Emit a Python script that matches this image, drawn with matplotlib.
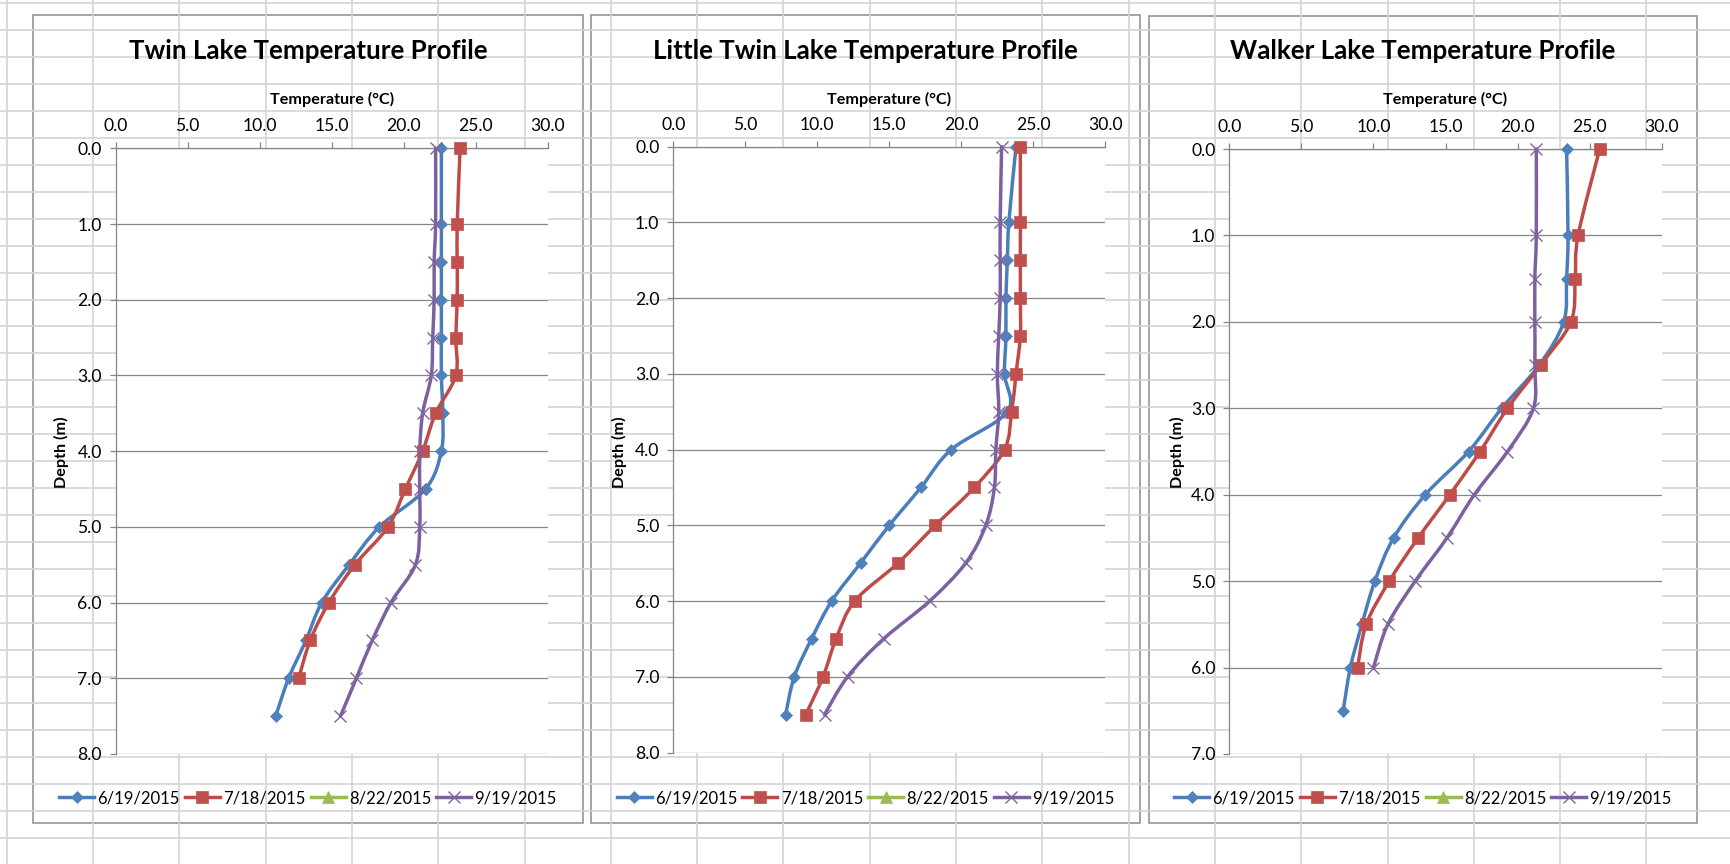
import matplotlib
matplotlib.use("Agg")
import matplotlib.pyplot as plt
from matplotlib.path import Path
from matplotlib.patches import PathPatch, Rectangle
from matplotlib.lines import Line2D
from matplotlib.ticker import FormatStrFormatter
import numpy as np

plt.rcParams['font.family'] = ['Lato', 'DejaVu Sans']

# ---------------- data ----------------
series_labels = ["6/19/2015", "7/18/2015", "8/22/2015", "9/19/2015"]
line_colors = ["#4A7EBB", "#BE4B48", "#98B954", "#7D60A0"]
marker_colors = ["#4F81BD", "#C0504D", "#9BBB59", "#8064A2"]
markers = ["D", "s", "^", "x"]

lake_titles = ["Twin Lake Temperature Profile",
               "Little Twin Lake Temperature Profile",
               "Walker Lake Temperature Profile"]
temp_ticks = [0, 5, 10, 15, 20, 25, 30]

# Twin Lake
twin_depth = [0, 1, 1.5, 2, 2.5, 3, 3.5, 4, 4.5, 5, 5.5, 6, 6.5, 7, 7.5]
twin_depth_jul = [0, 1, 1.5, 2, 2.5, 3, 3.5, 4, 4.5, 5, 5.5, 6, 6.5, 7]
twin_jun = [22.6, 22.6, 22.6, 22.6, 22.6, 22.6, 22.7, 22.6, 21.5, 18.3, 16.2, 14.3, 13.2, 12.0, 11.1]
twin_jul = [23.9, 23.7, 23.7, 23.7, 23.6, 23.6, 22.2, 21.3, 20.1, 18.9, 16.6, 14.8, 13.5, 12.7]
twin_aug = []
twin_sep = [22.2, 22.2, 22.1, 22.1, 22.0, 21.9, 21.3, 21.1, 21.1, 21.1, 20.8, 19.1, 17.8, 16.7, 15.6]
twin_depth_ticks = [0, 1, 2, 3, 4, 5, 6, 7, 8]

# Little Twin Lake
ltwin_depth = [0, 1, 1.5, 2, 2.5, 3, 3.5, 4, 4.5, 5, 5.5, 6, 6.5, 7, 7.5]
ltwin_jun = [23.8, 23.3, 23.2, 23.1, 23.1, 23.0, 23.2, 19.3, 17.2, 15.0, 13.0, 11.0, 9.6, 8.4, 7.8]
ltwin_jul = [24.1, 24.1, 24.1, 24.1, 24.1, 23.8, 23.5, 23.0, 20.9, 18.2, 15.6, 12.6, 11.3, 10.4, 9.2]
ltwin_aug = []
ltwin_sep = [22.8, 22.7, 22.7, 22.7, 22.6, 22.5, 22.6, 22.4, 22.3, 21.7, 20.3, 17.8, 14.6, 12.1, 10.5]
ltwin_depth_ticks = [0, 1, 2, 3, 4, 5, 6, 7, 8]

# Walker Lake
walker_depth_jun = [0, 1, 1.5, 2, 2.5, 3, 3.5, 4, 4.5, 5, 5.5, 6, 6.5]
walker_depth = [0, 1, 1.5, 2, 2.5, 3, 3.5, 4, 4.5, 5, 5.5, 6]
walker_jun = [23.4, 23.5, 23.4, 23.2, 21.5, 18.9, 16.6, 13.6, 11.4, 10.1, 9.2, 8.4, 7.9]
walker_jul = [25.7, 24.2, 24.0, 23.7, 21.6, 19.3, 17.4, 15.3, 13.1, 11.1, 9.5, 8.9]
walker_aug = []
walker_sep = [21.3, 21.3, 21.2, 21.2, 21.2, 21.1, 19.3, 17.0, 15.1, 12.9, 11.0, 10.0]
walker_depth_ticks = [0, 1, 2, 3, 4, 5, 6, 7]

lakes = [
    dict(title=lake_titles[0], yticks=twin_depth_ticks,
         series=[(twin_jun, twin_depth), (twin_jul, twin_depth_jul), (twin_aug, []), (twin_sep, twin_depth)]),
    dict(title=lake_titles[1], yticks=ltwin_depth_ticks,
         series=[(ltwin_jun, ltwin_depth), (ltwin_jul, ltwin_depth), (ltwin_aug, []), (ltwin_sep, ltwin_depth)]),
    dict(title=lake_titles[2], yticks=walker_depth_ticks,
         series=[(walker_jun, walker_depth_jun), (walker_jul, walker_depth), (walker_aug, []), (walker_sep, walker_depth)]),
]

# ---------------- layout (pixels) ----------------
W, H = 1730, 864
panel_boxes = [(33, 15, 583, 823), (591, 15, 1140, 823), (1149, 16, 1697, 823)]
plot_areas = [(115.7, 148.3, 548, 754), (673.3, 146.7, 1105.3, 752.5), (1229.3, 149, 1661.7, 754)]

AXIS_GRAY = "#868686"
LW = 2.5
MS = {"D": 6.3, "s": 8.2, "^": 8, "x": 9}


def smooth_path(xs, ys):
    pts = np.column_stack([xs, ys]).astype(float)
    n = len(pts)
    verts = [pts[0]]
    codes = [Path.MOVETO]
    for i in range(n - 1):
        p0 = pts[i - 1] if i > 0 else pts[i]
        p1 = pts[i]
        p2 = pts[i + 1]
        p3 = pts[i + 2] if i + 2 < n else pts[i + 1]
        c1 = p1 + (p2 - p0) / 6.0
        c2 = p2 - (p3 - p1) / 6.0
        verts += [c1, c2, p2]
        codes += [Path.CURVE4] * 3
    return Path(verts, codes)


fig = plt.figure(figsize=(W / 100, H / 100), dpi=100)

# spreadsheet background
bg = fig.add_axes([0, 0, 1, 1], zorder=-10)
bg.set_xlim(0, W)
bg.set_ylim(H, 0)
bg.axis("off")
for k in range(21):
    bg.axvline(6.7 + 86.3 * k, color="#d4d4d4", lw=1.2)
for k in range(33):
    bg.axhline(3.3 + 26.93 * k, color="#d4d4d4", lw=1.2)
for (x0, y0, x1, y1) in panel_boxes:
    bg.add_patch(Rectangle((x0, y0), x1 - x0, y1 - y0, facecolor="white",
                           edgecolor="#8c8c8c", lw=1.1))

for i, lake in enumerate(lakes):
    x0, y0, x1, y1 = plot_areas[i]
    ax = fig.add_axes([x0 / W, 1 - y1 / H, (x1 - x0) / W, (y1 - y0) / H])
    ymax = lake["yticks"][-1]
    ax.set_xlim(0, 30)
    ax.set_ylim(ymax, 0)
    ax.xaxis.tick_top()
    ax.set_xticks(temp_ticks)
    ax.set_yticks(lake["yticks"])
    ax.xaxis.set_major_formatter(FormatStrFormatter("%.1f"))
    ax.yaxis.set_major_formatter(FormatStrFormatter("%.1f"))
    ax.tick_params(axis="x", direction="out", length=4, width=0.9, color=AXIS_GRAY,
                   labelsize=12.6, pad=6, labelcolor="black")
    ax.tick_params(axis="y", direction="out", length=4, width=0.9, color=AXIS_GRAY,
                   labelsize=12.6, pad=6, labelcolor="black")
    for s in ["right", "bottom"]:
        ax.spines[s].set_visible(False)
    for s in ["top", "left"]:
        ax.spines[s].set_color(AXIS_GRAY)
        ax.spines[s].set_linewidth(0.9)
    ax.yaxis.grid(True, color=AXIS_GRAY, lw=0.9)
    ax.set_axisbelow(True)

    for j, (temps, depths) in enumerate(lake["series"]):
        if len(temps) == 0:
            continue
        path = smooth_path(temps, depths)
        ax.add_patch(PathPatch(path, facecolor="none", edgecolor=line_colors[j],
                               lw=LW, capstyle="round", joinstyle="round",
                               clip_on=False, zorder=3))
        mk = markers[j]
        ax.plot(temps, depths, ls="none", marker=mk, ms=MS[mk],
                mew=1.0 if mk == "x" else 0.5,
                color=marker_colors[j], clip_on=False, zorder=4)

    bx0, by0, bx1, by1 = panel_boxes[i]
    cx = (bx0 + bx1) / 2
    fig.text(cx / W, 1 - 51 / H, lake["title"], ha="center", va="center",
             fontsize=18.6, fontweight="bold")
    fig.text(((x0 + x1) / 2) / W, 1 - 99 / H, "Temperature (\u00b0C)", ha="center",
             va="center", fontsize=11.6, fontweight="bold")
    fig.text((bx0 + 28) / W, 1 - 452 / H, "Depth (m)",
             rotation=90, ha="center", va="center", fontsize=11.6, fontweight="bold")

    handles = []
    for j in range(4):
        mk = markers[j]
        handles.append(Line2D([0], [0], color=line_colors[j], lw=LW, marker=mk,
                              ms=MS[mk], mfc=marker_colors[j], mec=marker_colors[j],
                              mew=1.0 if mk == "x" else 0.5))
    ax.legend(handles, series_labels, loc="center", bbox_to_anchor=(cx / W, 1 - 798 / H),
              bbox_transform=fig.transFigure, ncol=4, frameon=False, fontsize=12,
              handlelength=2.1, handletextpad=0.2, columnspacing=0.3,
              borderaxespad=0, borderpad=0)

fig.savefig("out.png", dpi=100)
